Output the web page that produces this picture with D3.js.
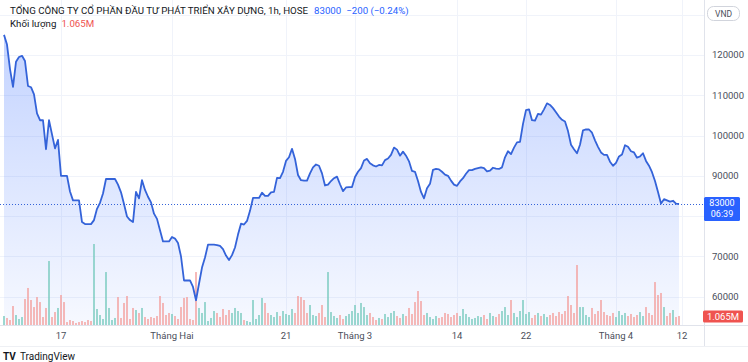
<!DOCTYPE html>
<html>
<head>
<meta charset="utf-8">
<script src="https://d3js.org/d3.v7.min.js"></script>
<style>
  body { margin: 0; background: #fff; }
  svg { display: block; font-family: Roboto, "Liberation Sans", sans-serif; }
</style>
</head>
<body>
<svg id="chart" width="748" height="362"></svg>
<script>
// hourly closes, thousand VND
var closeK = [125,122.6,116.5,112.1,118.3,119.5,119.8,118.5,112.3,112,110.2,105.5,103.8,103.8,96.6,103.8,100.3,96.8,98.9,90,
  90,90,86.1,83.9,83.9,83.9,78.5,78,78,78,79,81.8,83.3,85.6,89.2,89.2,89.2,89.2,87.8,85.9,
  83,79.9,79,78.5,86,84.4,88.9,86.5,84.8,83.4,80.6,79.3,76.5,73.7,73.7,73.7,74.8,74.4,73.3,70,
  64,64,64,62.4,59.1,63.2,67.2,69.7,72.9,72.9,72.9,72.8,72.6,71.8,70.2,69.1,70.3,72.2,75.4,78.1,
  77.9,78.8,81.3,84.5,84.5,84.5,85.8,85,85,85.9,86,89.5,89.4,91,93.7,94.6,96.7,94.2,90.2,88.9,
  88.8,88.8,90.6,92.1,92.8,92.5,90.6,87.6,87.8,88.7,89.4,89.8,87.9,86.2,87.1,87.2,87.2,89.7,91,91.9,
  93.8,94.2,93.1,92.6,92.3,92.7,92.6,93.9,94.3,95.2,97,96.5,95,96,95,93.6,91.2,91,88.7,86,
  84.4,86.9,88,91.5,91.7,91.6,91,90.3,90,88.8,87.8,87.5,88.6,89.4,90.5,91.4,91.4,91.7,91.9,92.1,
  91.9,91.1,91.3,92,91.8,91.7,92.1,94.6,96.1,95.4,97,98.3,98.4,102.9,106.3,106.5,103.8,103.7,105.4,105.2,
  106.5,108,107.6,106.8,105.8,104.7,103.9,103.5,101.1,97.7,96.6,95.6,97.7,101.3,101.5,101.5,100.7,98.8,97.2,95.8,
  95.2,95.2,93.5,92.5,93.2,94.8,95.3,97.6,97.2,96.1,95.8,94.5,94.8,95.6,93.7,92.5,90.9,88.7,86,83.1,
  84.2,83.9,83.6,83.8,83.1,83];

// hourly volume, thousand shares
var volK = [1060,830,590,2240,1180,710,940,3070,4370,2950,2120,3300,2710,940,2010,7550,940,1530,2010,3540,
  2710,350,590,470,240,350,470,350,590,470,9560,1890,1180,710,6250,2010,590,830,3300,830,
  2600,3420,710,2010,1770,1420,2010,940,710,940,830,1060,3420,2600,1180,1420,1300,1060,710,2120,
  3190,3300,710,590,6250,2010,1420,2710,470,830,1650,1420,940,1890,1180,1770,1420,2010,1650,1420,
  590,470,350,2950,710,1180,3190,2600,1420,1180,940,1530,1060,1650,1300,1180,1890,1420,3420,3300,
  2950,1420,2360,1180,1060,1420,2360,940,6250,1530,1060,830,1180,710,1060,1300,1650,2360,1420,2600,
  2120,1180,1420,940,590,830,710,1300,940,1420,1650,1060,830,1300,1060,2010,1300,2710,4010,2830,
  1180,1420,940,710,1060,830,940,1420,1300,940,1180,1420,1060,1890,1300,940,710,830,1060,940,
  1180,710,1420,1060,940,1300,1650,2120,1180,2950,1420,940,1650,2950,1300,1530,830,1180,1420,1060,
  1300,940,1180,1420,1060,1530,1300,1650,3420,2360,1420,7080,2120,2120,1180,940,2010,1300,1650,2950,
  1530,1180,1060,1420,940,1650,1180,1420,1060,1300,940,1180,1530,1060,2120,1420,1180,5070,3540,3780,
  2120,1060,1420,1770,940,1065];

var priceTicks = [60000,70000,80000,90000,100000,110000,120000,130000];
var timeTicks = [
  {bar: 19, label: "17"},
  {bar: 56, label: "Tháng Hai"},
  {bar: 94, label: "21"},
  {bar: 117, label: "Tháng 3"},
  {bar: 151, label: "14"},
  {bar: 174, label: "22"},
  {bar: 204, label: "Tháng 4"},
  {bar: 226, label: "12"}
];

var title = "TỔNG CÔNG TY CỔ PHẦN ĐẦU TƯ PHÁT TRIỂN XÂY DỰNG, 1h, HOSE";
var lastPrice = 83000, change = "−200 (−0.24%)", lastVol = "1.065M", countdown = "06:39";

var W = 748, H = 362, plotR = 704, volBase = 325, axisB = 346;

var svg = d3.select("#chart");

var x = d3.scaleLinear().domain([0, closeK.length - 1]).range([4, 679]);
var y = d3.scaleLinear().domain([60000, 120000]).range([296.6, 55]);
var yv = d3.scaleLinear().domain([0, d3.max(volK)]).range([volBase, volBase - 81]);

var defs = svg.append("defs");
var grad = defs.append("linearGradient").attr("id", "areaGrad")
  .attr("x1", 0).attr("y1", 0).attr("x2", 0).attr("y2", 1);
grad.append("stop").attr("offset", "0%").attr("stop-color", "#2962ff").attr("stop-opacity", 0.28);
grad.append("stop").attr("offset", "100%").attr("stop-color", "#2962ff").attr("stop-opacity", 0.04);
defs.append("clipPath").attr("id", "plotClip")
  .append("rect").attr("x", 0).attr("y", 0).attr("width", plotR).attr("height", volBase);

// grid
svg.append("g").selectAll("line").data(priceTicks).join("line")
  .attr("x1", 0).attr("x2", plotR)
  .attr("y1", function(d) { return Math.round(y(d)) + 0.5; })
  .attr("y2", function(d) { return Math.round(y(d)) + 0.5; })
  .attr("stroke", "#f0f3fa");
svg.append("g").selectAll("line").data(timeTicks).join("line")
  .attr("x1", function(d) { return Math.round(x(d.bar)) + 0.5; })
  .attr("x2", function(d) { return Math.round(x(d.bar)) + 0.5; })
  .attr("y1", 0).attr("y2", volBase)
  .attr("stroke", "#f0f3fa");

var plot = svg.append("g").attr("clip-path", "url(#plotClip)");

// area + line
var prices = closeK.map(function(d) { return d * 1000; });
plot.append("path").datum(prices)
  .attr("fill", "url(#areaGrad)")
  .attr("d", d3.area()
    .x(function(d, i) { return x(i); })
    .y0(volBase)
    .y1(function(d) { return y(d); }));

// volume
plot.append("g").selectAll("rect").data(volK).join("rect")
  .attr("x", function(d, i) { return x(i) - 0.75; })
  .attr("width", 1.5)
  .attr("y", function(d) { return yv(d); })
  .attr("height", function(d) { return volBase - yv(d); })
  .attr("fill", function(d, i) {
    var j = i;
    while (j > 0 && closeK[j] === closeK[j - 1]) j--;
    var up = j === 0 || closeK[j] > closeK[j - 1];
    return up ? "#7ccbc1" : "#f3a2a1";
  });

plot.append("path").datum(prices)
  .attr("fill", "none")
  .attr("stroke", "#3463d9")
  .attr("stroke-width", 1.8)
  .attr("stroke-linejoin", "round")
  .attr("d", d3.line()
    .x(function(d, i) { return x(i); })
    .y(function(d) { return y(d); }));

// last price line
var ly = y(lastPrice);
svg.append("line")
  .attr("x1", 0).attr("x2", plotR)
  .attr("y1", Math.round(ly) + 0.5).attr("y2", Math.round(ly) + 0.5)
  .attr("stroke", "#3463d9").attr("stroke-width", 1).attr("stroke-dasharray", "1,2");

// separators
svg.append("line").attr("x1", plotR + 0.5).attr("x2", plotR + 0.5).attr("y1", 0).attr("y2", axisB)
  .attr("stroke", "#e0e3eb");
svg.append("line").attr("x1", 0).attr("x2", W).attr("y1", volBase + 0.5).attr("y2", volBase + 0.5)
  .attr("stroke", "#e0e3eb");
svg.append("line").attr("x1", 0).attr("x2", W).attr("y1", axisB + 0.5).attr("y2", axisB + 0.5)
  .attr("stroke", "#eef0f4");

// price axis labels (hidden where the last-price box sits, like the original)
svg.append("g").selectAll("text")
  .data(priceTicks.filter(function(d) { return d < 130000 && Math.abs(y(d) - (ly + 5)) > 18; }))
  .join("text")
  .attr("x", 712).attr("y", function(d) { return y(d); })
  .attr("dy", "0.35em")
  .attr("font-size", 9.5).attr("fill", "#4a4e5a")
  .text(function(d) { return d; });

// time axis labels
svg.append("g").selectAll("text").data(timeTicks).join("text")
  .attr("x", function(d) { return x(d.bar); }).attr("y", 338.5)
  .attr("text-anchor", "middle")
  .attr("font-size", 9.5).attr("fill", "#4a4e5a")
  .text(function(d) { return d.label; });

// VND pill
svg.append("rect").attr("x", 707.5).attr("y", 6.5).attr("width", 32).attr("height", 14).attr("rx", 6)
  .attr("fill", "#fff").attr("stroke", "#d1d4dc");
svg.append("text").attr("x", 723.5).attr("y", 16.5).attr("text-anchor", "middle")
  .attr("font-size", 8.5).attr("fill", "#4a4e5a").text("VND");

// last price label
svg.append("rect").attr("x", 704).attr("y", ly - 7).attr("width", 36).attr("height", 24).attr("rx", 1.5)
  .attr("fill", "#2962ff");
svg.append("text").attr("x", 722).attr("y", ly + 2.5).attr("text-anchor", "middle")
  .attr("font-size", 9).attr("fill", "#fff").text(lastPrice);
svg.append("text").attr("x", 722).attr("y", ly + 13.5).attr("text-anchor", "middle")
  .attr("font-size", 9).attr("fill", "#fff").text(countdown);

// last volume label
var vy = yv(volK[volK.length - 1]);
svg.append("rect").attr("x", 703).attr("y", vy - 5.5).attr("width", 40).attr("height", 12).attr("rx", 1.5)
  .attr("fill", "#ef5350");
svg.append("text").attr("x", 723).attr("y", vy + 3.8).attr("text-anchor", "middle")
  .attr("font-size", 9.5).attr("fill", "#fff").text(lastVol);

// header
var hdr = svg.append("text").attr("x", 10).attr("y", 14).attr("font-size", 9.7).attr("fill", "#131722");
hdr.append("tspan").text(title);
hdr.append("tspan").attr("dx", 6).attr("fill", "#2962ff").text(lastPrice);
hdr.append("tspan").attr("dx", 5).attr("fill", "#2962ff").text(change);

var vl = svg.append("text").attr("x", 10).attr("y", 27).attr("font-size", 9.7).attr("fill", "#131722");
vl.append("tspan").text("Khối lượng");
vl.append("tspan").attr("dx", 5).attr("fill", "#ef5350").text(lastVol);

// footer logo
svg.append("text").attr("x", 3).attr("y", 360).attr("font-size", 10).attr("font-weight", "bold")
  .attr("fill", "#131722").text("TV");
svg.append("text").attr("x", 20).attr("y", 360).attr("font-size", 10).attr("fill", "#131722")
  .text("TradingView");
</script>
</body>
</html>
